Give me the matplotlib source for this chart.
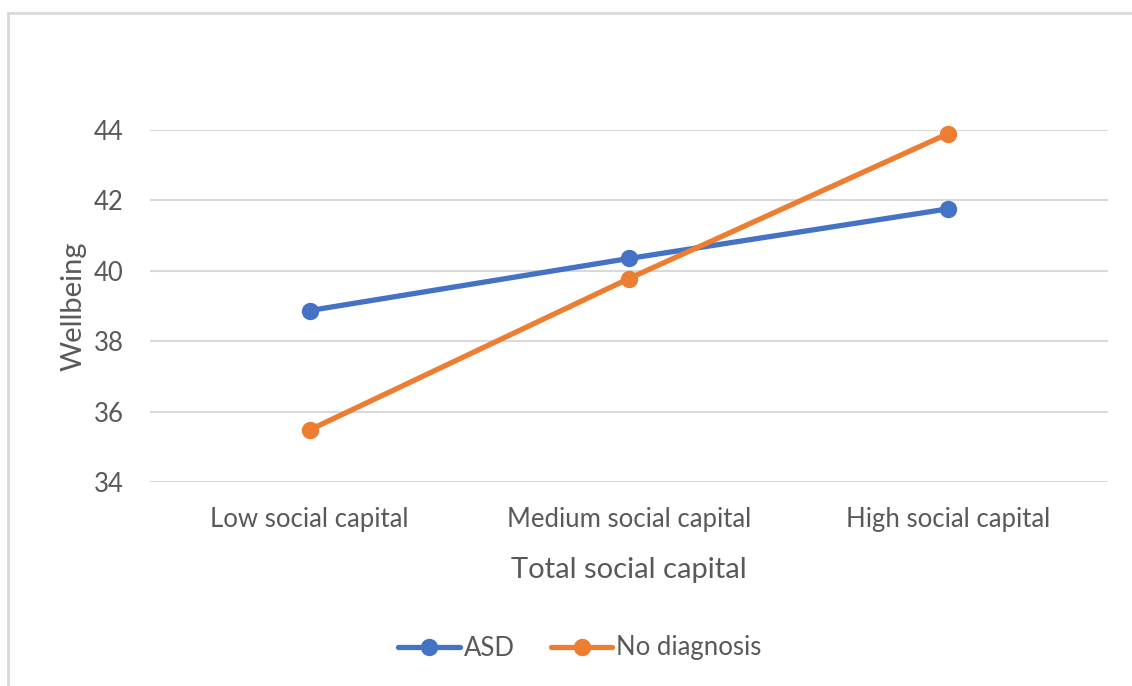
import numpy as np
import matplotlib.pyplot as plt
from matplotlib.lines import Line2D

categories = ["Low social capital", "Medium social capital", "High social capital"]
asd = [38.87, 40.35, 41.76]
no_diag = [35.48, 39.78, 43.9]
yticks = [34, 36, 38, 40, 42, 44]

plt.rcParams['font.family'] = ['Lato', 'DejaVu Sans']
text_col = '#595959'

fig = plt.figure(figsize=(11.32, 6.86), dpi=100)
ax = fig.add_axes([0.1325, 0.2974, 0.8463, 0.5131])

x = np.arange(len(categories))
ax.plot(x, asd, color='#4472C4', lw=3.8, marker='o', ms=11.5, label='ASD',
        clip_on=False, solid_capstyle='round', zorder=3)
ax.plot(x, no_diag, color='#ED7D31', lw=3.8, marker='o', ms=11.5, label='No diagnosis',
        clip_on=False, solid_capstyle='round', zorder=3)

ax.set_xlim(-0.5, 2.5)
ax.set_ylim(34, 44)
ax.set_yticks(yticks)
ax.set_xticks(x)
ax.set_xticklabels(categories)
ax.grid(axis='y', color='#D9D9D9', lw=1.5)
ax.set_axisbelow(True)
for s in ax.spines.values():
    s.set_visible(False)
ax.tick_params(length=0, labelsize=18.5, labelcolor=text_col)
ax.tick_params(axis='y', pad=19)
ax.tick_params(axis='x', pad=18)

ax.set_xlabel("Total social capital", fontsize=21, color=text_col, labelpad=18)
ax.set_ylabel("Wellbeing", fontsize=21, color=text_col, labelpad=5)

fig.legend(loc='center', bbox_to_anchor=(580/1132, 1 - 648/686), ncol=2, frameon=False,
           fontsize=18.5, handlelength=2.4, columnspacing=1.4, handletextpad=0.15,
           labelcolor=text_col)

# outer chart border (only top and left visible in the reference)
fig.add_artist(Line2D([8/1132, 8/1132], [0, 1 - 13/686], transform=fig.transFigure,
                      color='#D9D9D9', lw=2))
fig.add_artist(Line2D([8/1132, 1], [1 - 13/686, 1 - 13/686], transform=fig.transFigure,
                      color='#D9D9D9', lw=2))

fig.savefig('out.png', dpi=100)
